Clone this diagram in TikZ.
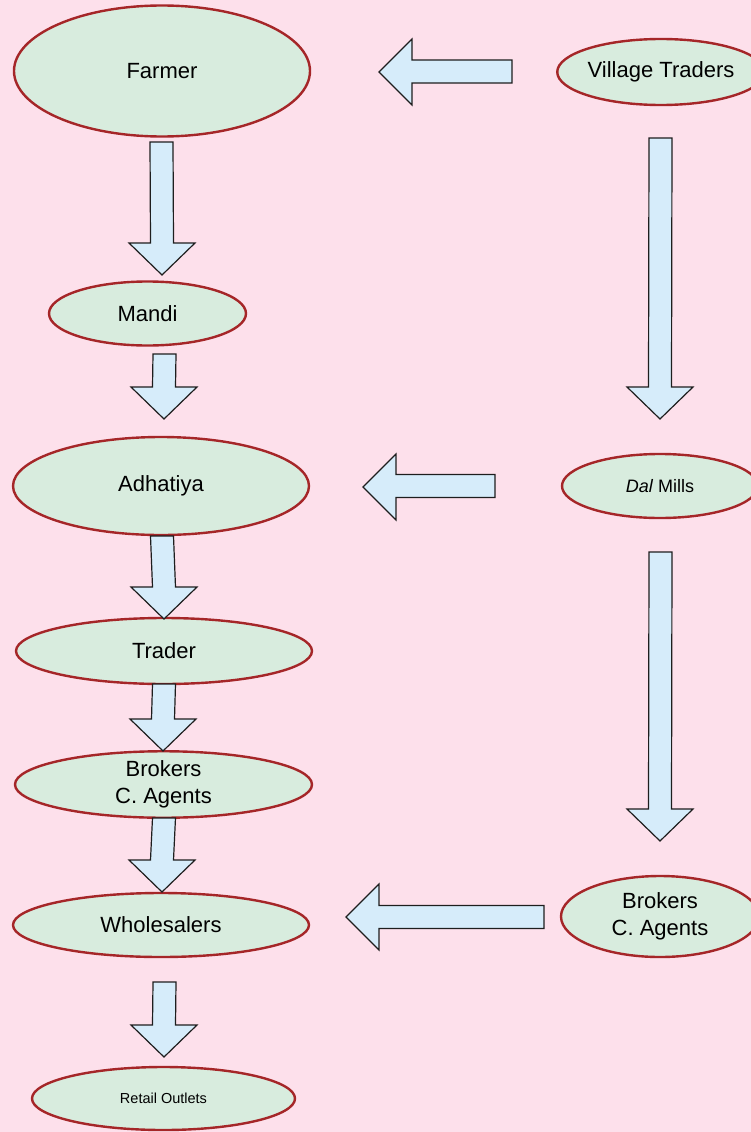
\documentclass[tikz,border=0pt]{standalone}
\usepackage{fontspec}
\setmainfont{Liberation Sans}
\usetikzlibrary{calc}

\definecolor{bgpink}{RGB}{253,224,235}
\definecolor{stagefill}{RGB}{216,236,222}
\definecolor{stageline}{RGB}{165,38,40}
\definecolor{arrowfill}{RGB}{214,236,250}
\definecolor{arrowline}{RGB}{30,30,30}

\tikzset{
  stage/.style={ellipse, draw=stageline, fill=stagefill, line width=2.4pt,
    inner sep=0pt, outer sep=0pt, align=center,
    font=\fontsize{22}{26.5}\selectfont},
  blockarrow/.style={draw=arrowline, fill=arrowfill, line width=1.2pt, line join=miter},
}

% downward block arrow from tail #1 to tip #2
\newcommand{\flowdown}[2]{%
  \draw[blockarrow] let \p1=(#1), \p2=(#2) in
    (\x1-11.5pt,\y1) -- (\x1+11.5pt,\y1) -- (\x2+11.5pt,\y2+32pt)
    -- (\x2+33pt,\y2+32pt) -- (\x2,\y2) -- (\x2-33pt,\y2+32pt)
    -- (\x2-11.5pt,\y2+32pt) -- cycle;}
% leftward block arrow from tail #1 to tip #2
\newcommand{\flowleft}[2]{%
  \draw[blockarrow] let \p1=(#1), \p2=(#2) in
    (\x1,\y1+11.5pt) -- (\x2+33pt,\y1+11.5pt) -- (\x2+33pt,\y2+33pt)
    -- (\x2,\y2) -- (\x2+33pt,\y2-33pt) -- (\x2+33pt,\y1-11.5pt)
    -- (\x1,\y1-11.5pt) -- cycle;}

\usetikzlibrary{shapes.geometric}

\begin{document}
\begin{tikzpicture}[x=1pt, y=-1pt]
  \useasboundingbox (0,0) rectangle (751,1132);
  \fill[bgpink] (0,0) rectangle (751,1132);

  % left chain
  \node[stage, minimum width=296pt, minimum height=131pt] (farmer) at (162,71) {Farmer};
  \node[stage, minimum width=197pt, minimum height=64pt] (mandi) at (147.5,313.5) {Mandi};
  \node[stage, minimum width=296pt, minimum height=98pt] (adhatiya) at (161,486) {Adhatiya};
  \node[stage, minimum width=296pt, minimum height=66pt] (trader) at (164,651) {Trader};
  \node[stage, minimum width=297pt, minimum height=63pt] (brokersL) at (163.5,784.5) {Brokers\\C. Agents};
  \node[stage, minimum width=296pt, minimum height=64pt] (wholesalers) at (161,925) {Wholesalers};
  \node[stage, minimum width=263pt, minimum height=63pt,
        font=\fontsize{14.5}{17}\selectfont] (retail) at (163.5,1098.5) {Retail Outlets};

  % right chain
  \node[stage, minimum width=200pt, minimum height=66pt] (village) at (661,72) {Village Traders};
  \node[stage, minimum width=196pt, minimum height=64pt,
        font=\fontsize{18}{21}\selectfont] (dal) at (660,486) {\textit{Dal} Mills};
  \node[stage, minimum width=198pt, minimum height=81pt] (brokersR) at (660,916.5) {Brokers\\C. Agents};

  % arrow ends
  \coordinate (fm1) at (161.5,142);  \coordinate (fm2) at (162,275);
  \coordinate (ma1) at (164.5,354);  \coordinate (ma2) at (164,419);
  \coordinate (at1) at (162,536);    \coordinate (at2) at (164,619);
  \coordinate (tb1) at (164,684);    \coordinate (tb2) at (163,751);
  \coordinate (bw1) at (164,818);    \coordinate (bw2) at (162,892);
  \coordinate (wr1) at (164.5,982);  \coordinate (wr2) at (164,1057);
  \coordinate (vd1) at (660.5,138);  \coordinate (vd2) at (660,419);
  \coordinate (db1) at (660.5,552);  \coordinate (db2) at (660,841);
  \coordinate (vf1) at (512,71.5);   \coordinate (vf2) at (379,72);
  \coordinate (da1) at (495,486);    \coordinate (da2) at (363,487);
  \coordinate (bb1) at (544,917);    \coordinate (bb2) at (346,917);

  \flowdown{fm1}{fm2}
  \flowdown{ma1}{ma2}
  \flowdown{at1}{at2}
  \flowdown{tb1}{tb2}
  \flowdown{bw1}{bw2}
  \flowdown{wr1}{wr2}
  \flowdown{vd1}{vd2}
  \flowdown{db1}{db2}
  \flowleft{vf1}{vf2}
  \flowleft{da1}{da2}
  \flowleft{bb1}{bb2}
\end{tikzpicture}
\end{document}
